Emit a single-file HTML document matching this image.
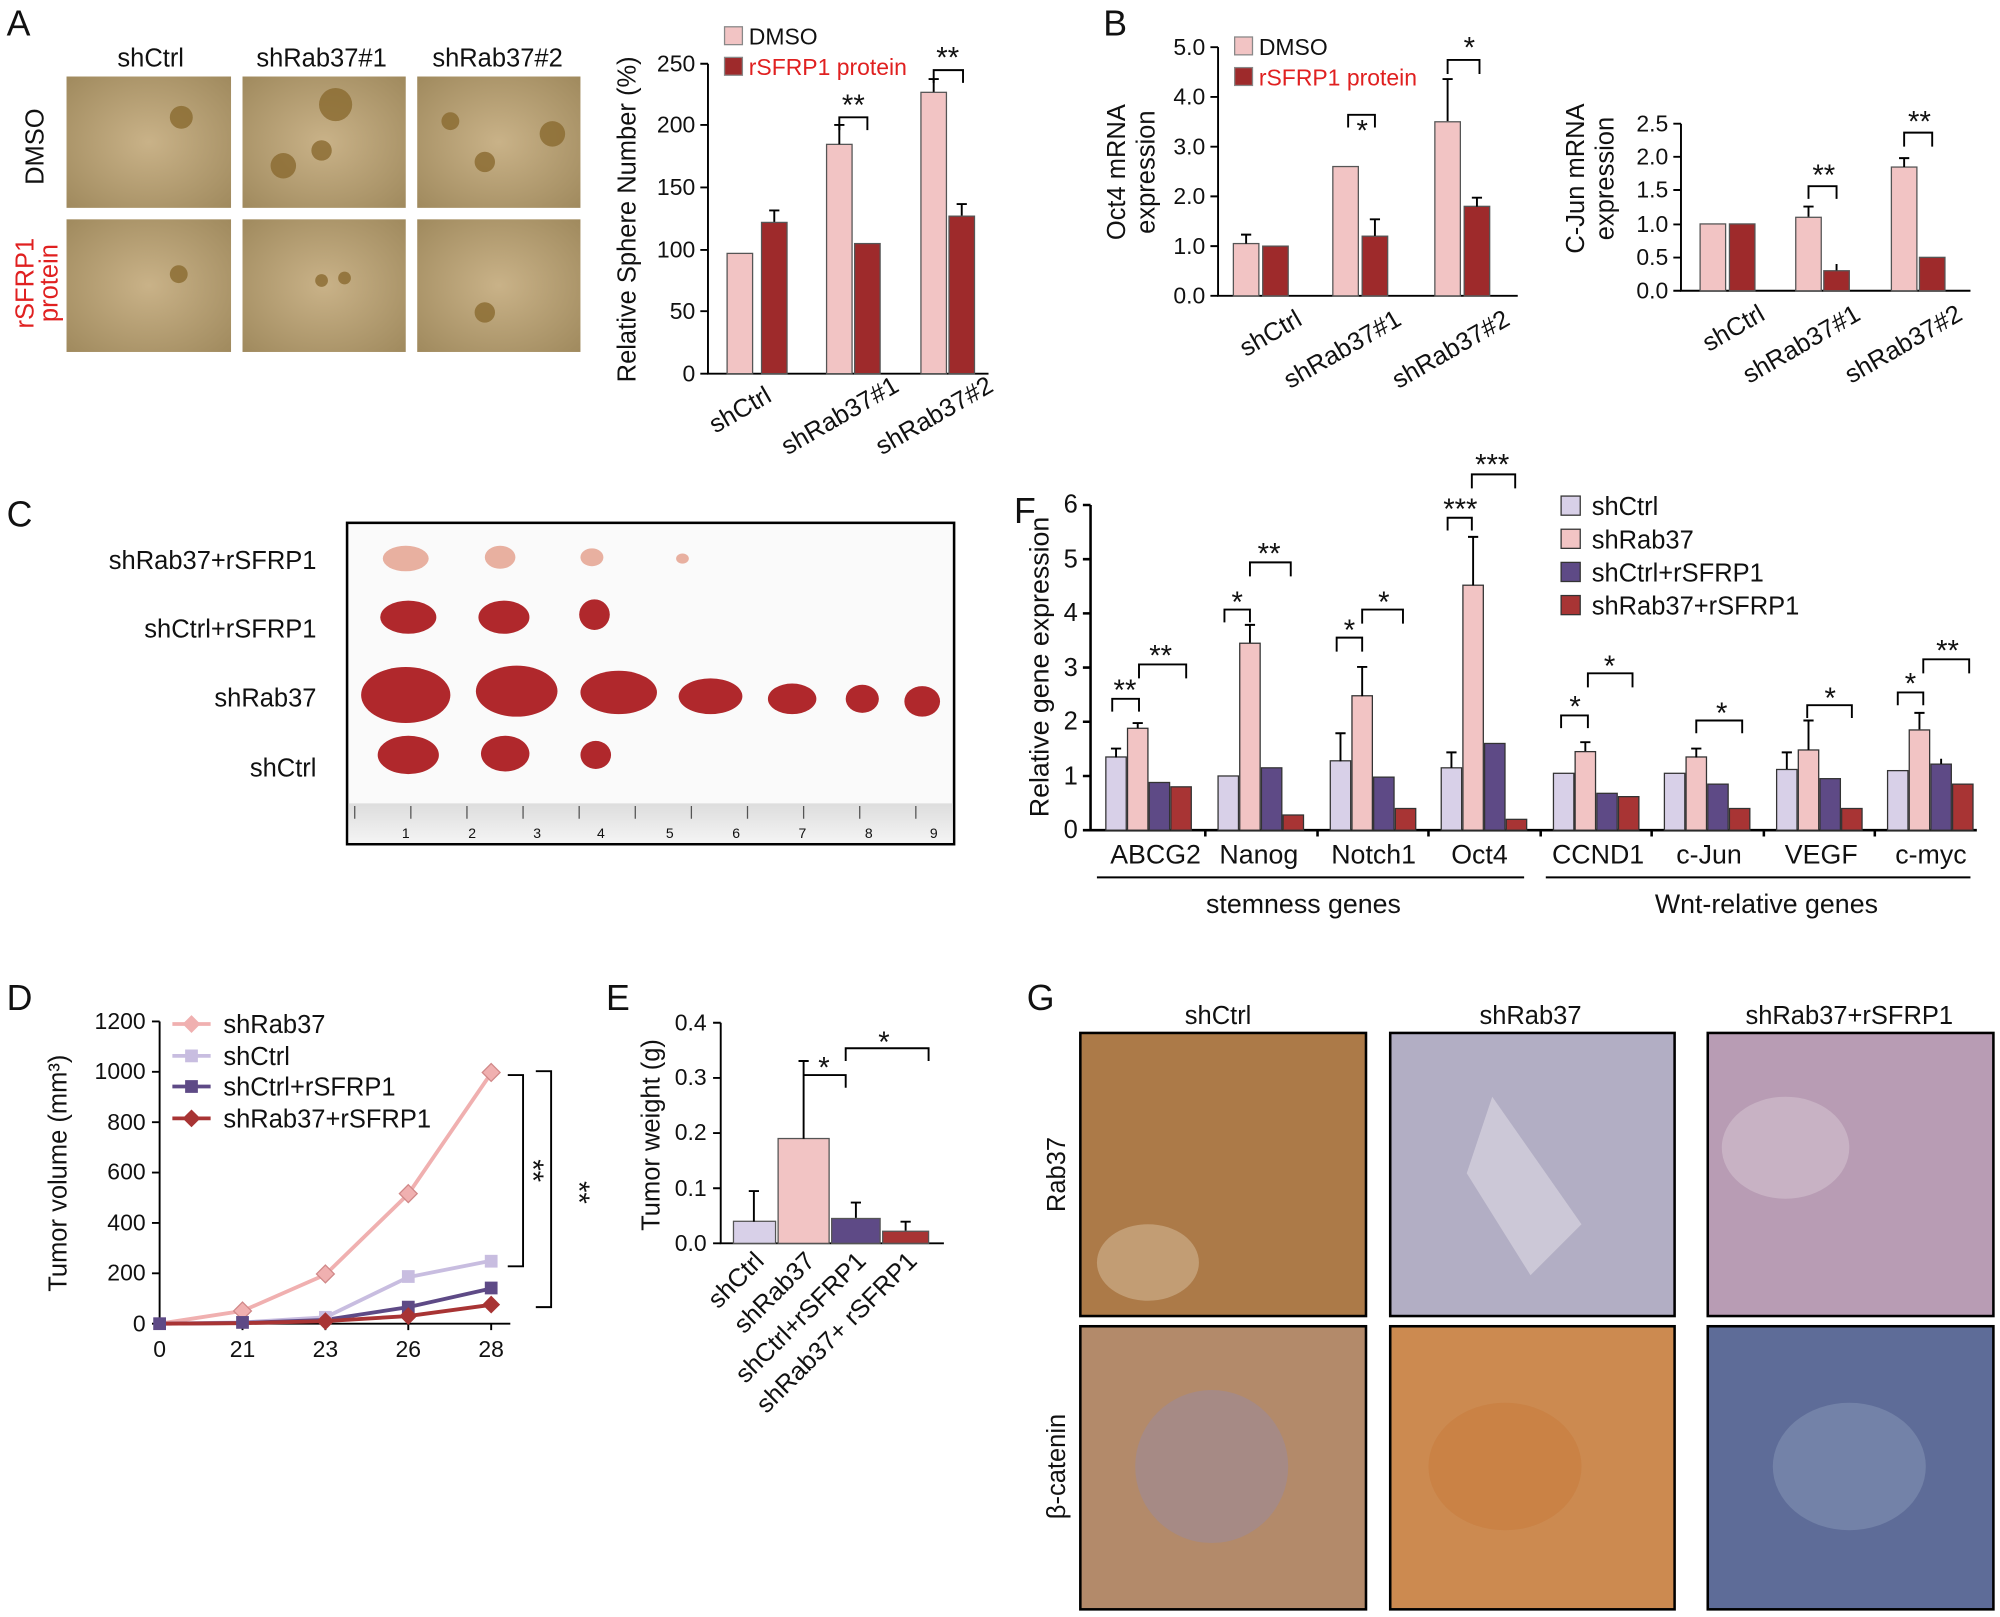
<!DOCTYPE html>
<html><head><meta charset="utf-8"><style>
html,body{margin:0;padding:0;background:#fff;}
svg{display:block;}
text{font-family:"Liberation Sans",Arial,sans-serif;fill:#111;}
</style></head><body>
<svg width="2000" height="1617" viewBox="0 0 1568 1268" xmlns="http://www.w3.org/2000/svg">
<defs>
<radialGradient id="ph" cx="50%" cy="50%" r="70%"><stop offset="0" stop-color="#c9b288"/><stop offset="1" stop-color="#a08a5e"/></radialGradient>
<linearGradient id="rul" x1="0" y1="0" x2="0" y2="1"><stop offset="0" stop-color="#ddd"/><stop offset="1" stop-color="#f4f4f4"/></linearGradient>
</defs>
<g font-size="28"><text x="5" y="28">A</text><text x="865" y="28">B</text><text x="5" y="413">C</text><text x="795" y="410">F</text><text x="5" y="792">D</text><text x="475" y="792">E</text><text x="805" y="792">G</text></g>

<!-- Panel A photos -->
<g font-size="20" text-anchor="middle"><text x="118" y="52">shCtrl</text><text x="252" y="52">shRab37#1</text><text x="390" y="52">shRab37#2</text></g>
<rect x="52" y="60" width="129" height="103" fill="url(#ph)"/><rect x="190" y="60" width="128" height="103" fill="url(#ph)"/><rect x="327" y="60" width="128" height="103" fill="url(#ph)"/>
<rect x="52" y="172" width="129" height="104" fill="url(#ph)"/><rect x="190" y="172" width="128" height="104" fill="url(#ph)"/><rect x="327" y="172" width="128" height="104" fill="url(#ph)"/>
<g fill="#8a6a30" opacity="0.8"><circle cx="142" cy="92" r="9"/><circle cx="263" cy="82" r="13"/><circle cx="222" cy="130" r="10"/><circle cx="252" cy="118" r="8"/><circle cx="433" cy="105" r="10"/><circle cx="380" cy="127" r="8"/><circle cx="353" cy="95" r="7"/><circle cx="140" cy="215" r="7"/><circle cx="380" cy="245" r="8"/><circle cx="252" cy="220" r="5"/><circle cx="270" cy="218" r="5"/></g>
<text transform="translate(34,115) rotate(-90)" font-size="20" text-anchor="middle">DMSO</text>
<text transform="translate(26,222) rotate(-90)" font-size="20" text-anchor="middle" style="fill:#e02020">rSFRP1</text>
<text transform="translate(45,222) rotate(-90)" font-size="20" text-anchor="middle" style="fill:#e02020">protein</text>

<!-- Panel A chart -->
<g stroke="#000" stroke-width="1.5" fill="none"><path d="M555 50V293H775"/><path d="M549 50h6M549 98h6M549 147h6M549 196h6M549 244h6M549 293h6"/></g>
<g font-size="18" text-anchor="end"><text x="545" y="56">250</text><text x="545" y="104">200</text><text x="545" y="153">150</text><text x="545" y="202">100</text><text x="545" y="250">50</text><text x="545" y="299">0</text></g>
<text transform="translate(498,172) rotate(-90)" font-size="20" text-anchor="middle">Relative Sphere Number (%)</text>
<g stroke="#555" stroke-width="1">
<rect x="570" y="198.7" width="20" height="94.3" fill="#f2c4c4"/><rect x="597" y="174.4" width="20" height="118.6" fill="#9e2a2b"/>
<rect x="648" y="113.2" width="20" height="179.8" fill="#f2c4c4"/><rect x="670" y="191" width="20" height="102" fill="#9e2a2b"/>
<rect x="722" y="72.4" width="20" height="220.6" fill="#f2c4c4"/><rect x="744" y="169.5" width="20" height="123.5" fill="#9e2a2b"/></g>
<g stroke="#000" stroke-width="1.5" fill="none"><path d="M607 174V165M603 165h8M658 113V98M654 98h8M732 72V62M728 62h8M754 169V160M750 160h8"/>
<path d="M658 102V92H680V102M732 65V55H755V65"/></g>
<g font-size="23" text-anchor="middle"><text x="669" y="90">**</text><text x="743" y="53">**</text></g>
<g font-size="20" text-anchor="end"><text transform="translate(606,314) rotate(-30)">shCtrl</text><text transform="translate(706,306) rotate(-30)">shRab37#1</text><text transform="translate(780,306) rotate(-30)">shRab37#2</text></g>
<rect x="568" y="21" width="14" height="14" fill="#f2c4c4" stroke="#888"/><text x="587" y="35" font-size="18">DMSO</text>
<rect x="568" y="45" width="14" height="14" fill="#9e2a2b" stroke="#888"/><text x="587" y="59" font-size="18" style="fill:#e02020">rSFRP1 protein</text>

<!-- Panel B chart 1 -->
<g stroke="#000" stroke-width="1.5" fill="none"><path d="M955 37V232H1190"/><path d="M949 37h6M949 76h6M949 115h6M949 154h6M949 193h6M949 232h6"/></g>
<g font-size="18" text-anchor="end"><text x="945" y="43">5.0</text><text x="945" y="82">4.0</text><text x="945" y="121">3.0</text><text x="945" y="160">2.0</text><text x="945" y="199">1.0</text><text x="945" y="238">0.0</text></g>
<text transform="translate(882,135) rotate(-90)" font-size="20" text-anchor="middle">Oct4 mRNA</text>
<text transform="translate(905,135) rotate(-90)" font-size="20" text-anchor="middle">expression</text>
<g stroke="#555" stroke-width="1">
<rect x="967" y="191" width="20" height="41" fill="#f2c4c4"/><rect x="990" y="193" width="20" height="39" fill="#9e2a2b"/>
<rect x="1045" y="130.6" width="20" height="101.4" fill="#f2c4c4"/><rect x="1068" y="185.2" width="20" height="46.8" fill="#9e2a2b"/>
<rect x="1125" y="95.5" width="20" height="136.5" fill="#f2c4c4"/><rect x="1148" y="161.8" width="20" height="70.2" fill="#9e2a2b"/></g>
<g stroke="#000" stroke-width="1.5" fill="none"><path d="M977 191V184M973 184h8M1078 185V172M1074 172h8M1135 95V62M1131 62h8M1158 162V155M1154 155h8"/>
<path d="M1057 100V90H1078V100M1135 58V47H1160V58"/></g>
<g font-size="23" text-anchor="middle"><text x="1068" y="110">*</text><text x="1152" y="45">*</text></g>
<g font-size="20" text-anchor="end"><text transform="translate(1022,254) rotate(-30)">shCtrl</text><text transform="translate(1100,254) rotate(-30)">shRab37#1</text><text transform="translate(1185,254) rotate(-30)">shRab37#2</text></g>
<rect x="968" y="29" width="14" height="14" fill="#f2c4c4" stroke="#888"/><text x="987" y="43" font-size="18">DMSO</text>
<rect x="968" y="53" width="14" height="14" fill="#9e2a2b" stroke="#888"/><text x="987" y="67" font-size="18" style="fill:#e02020">rSFRP1 protein</text>

<!-- Panel B chart 2 -->
<g stroke="#000" stroke-width="1.5" fill="none"><path d="M1318 97V228H1545"/><path d="M1312 97h6M1312 123h6M1312 149h6M1312 176h6M1312 202h6M1312 228h6"/></g>
<g font-size="18" text-anchor="end"><text x="1308" y="103">2.5</text><text x="1308" y="129">2.0</text><text x="1308" y="155">1.5</text><text x="1308" y="182">1.0</text><text x="1308" y="208">0.5</text><text x="1308" y="234">0.0</text></g>
<text transform="translate(1242,140) rotate(-90)" font-size="20" text-anchor="middle">C-Jun mRNA</text>
<text transform="translate(1265,140) rotate(-90)" font-size="20" text-anchor="middle">expression</text>
<g stroke="#555" stroke-width="1">
<rect x="1333" y="175.6" width="20" height="52.4" fill="#f2c4c4"/><rect x="1356" y="175.6" width="20" height="52.4" fill="#9e2a2b"/>
<rect x="1408" y="170.4" width="20" height="57.6" fill="#f2c4c4"/><rect x="1430" y="212.3" width="20" height="15.7" fill="#9e2a2b"/>
<rect x="1483" y="131" width="20" height="97" fill="#f2c4c4"/><rect x="1505" y="201.8" width="20" height="26.2" fill="#9e2a2b"/></g>
<g stroke="#000" stroke-width="1.5" fill="none"><path d="M1418 170V162M1414 162h8M1493 131V124M1489 124h8M1440 212V207"/>
<path d="M1418 156V146H1440V156M1493 115V104H1515V115"/></g>
<g font-size="23" text-anchor="middle"><text x="1430" y="145">**</text><text x="1505" y="103">**</text></g>
<g font-size="20" text-anchor="end"><text transform="translate(1385,250) rotate(-30)">shCtrl</text><text transform="translate(1460,250) rotate(-30)">shRab37#1</text><text transform="translate(1540,250) rotate(-30)">shRab37#2</text></g>

<!-- Panel C -->
<g font-size="20" text-anchor="end"><text x="248" y="446">shRab37+rSFRP1</text><text x="248" y="500">shCtrl+rSFRP1</text><text x="248" y="554">shRab37</text><text x="248" y="609">shCtrl</text></g>
<rect x="272" y="410" width="476" height="252" fill="#fafafa" stroke="#000" stroke-width="2"/>
<rect x="273" y="630" width="474" height="31" fill="url(#rul)"/>
<g stroke="#555" stroke-width="1"><path d="M278 632v10M322 632v10M366 632v10M410 632v10M454 632v10M498 632v10M542 632v10M586 632v10M630 632v10M674 632v10M718 632v10"/></g>
<g font-size="11" fill="#333"><text x="315" y="657">1</text><text x="367" y="657">2</text><text x="418" y="657">3</text><text x="468" y="657">4</text><text x="522" y="657">5</text><text x="574" y="657">6</text><text x="626" y="657">7</text><text x="678" y="657">8</text><text x="729" y="657">9</text></g>
<g fill="#e8b0a0"><ellipse cx="318" cy="438" rx="18" ry="10"/><ellipse cx="392" cy="437" rx="12" ry="9"/><ellipse cx="464" cy="437" rx="9" ry="7"/><ellipse cx="535" cy="438" rx="5" ry="4"/></g>
<g fill="#b0282c"><ellipse cx="320" cy="484" rx="22" ry="13"/><ellipse cx="395" cy="484" rx="20" ry="13"/><ellipse cx="466" cy="482" rx="12" ry="12"/>
<ellipse cx="318" cy="545" rx="35" ry="22"/><ellipse cx="405" cy="542" rx="32" ry="20"/><ellipse cx="485" cy="543" rx="30" ry="17"/><ellipse cx="557" cy="546" rx="25" ry="14"/><ellipse cx="621" cy="548" rx="19" ry="12"/><ellipse cx="676" cy="548" rx="13" ry="11"/><ellipse cx="723" cy="550" rx="14" ry="12"/>
<ellipse cx="320" cy="592" rx="24" ry="15"/><ellipse cx="396" cy="591" rx="19" ry="14"/><ellipse cx="467" cy="592" rx="12" ry="11"/></g>

<!-- Panel F -->
<g stroke="#000" stroke-width="2" fill="none"><path d="M855 396V651H1550"/><path d="M849 396h6M849 438.5h6M849 481h6M849 523.5h6M849 566h6M849 608.5h6M849 651h6M945 651v5M1033 651v5M1120 651v5M1208 651v5M1295 651v5M1383 651v5M1470 651v5"/></g>
<g font-size="20" text-anchor="end"><text x="845" y="402">6</text><text x="845" y="445">5</text><text x="845" y="487">4</text><text x="845" y="530">3</text><text x="845" y="572">2</text><text x="845" y="615">1</text><text x="845" y="657">0</text></g>
<text transform="translate(822,523) rotate(-90)" font-size="21" text-anchor="middle">Relative gene expression</text>
<g stroke="#333" stroke-width="1">
<g fill="#d8d0e8"><rect x="867" y="593.6" width="16" height="57.4"/><rect x="955" y="608.5" width="16" height="42.5"/><rect x="1043" y="596.6" width="16" height="54.4"/><rect x="1130" y="602.1" width="16" height="48.9"/><rect x="1218" y="606.4" width="16" height="44.6"/><rect x="1305" y="606.4" width="16" height="44.6"/><rect x="1393" y="603.4" width="16" height="47.6"/><rect x="1480" y="604.3" width="16" height="46.7"/></g>
<g fill="#f2c4c4"><rect x="884" y="571.1" width="16" height="79.9"/><rect x="972" y="504.4" width="16" height="146.6"/><rect x="1060" y="545.6" width="16" height="105.4"/><rect x="1147" y="458.9" width="16" height="192.1"/><rect x="1235" y="589.4" width="16" height="61.6"/><rect x="1322" y="593.6" width="16" height="57.4"/><rect x="1410" y="588.1" width="16" height="62.9"/><rect x="1497" y="572.4" width="16" height="78.6"/></g>
<g fill="#5e4a86"><rect x="901" y="613.6" width="16" height="37.4"/><rect x="989" y="602.1" width="16" height="48.9"/><rect x="1077" y="609.4" width="16" height="41.6"/><rect x="1164" y="583" width="16" height="68"/><rect x="1252" y="622.1" width="16" height="28.9"/><rect x="1339" y="614.9" width="16" height="36.1"/><rect x="1427" y="610.6" width="16" height="40.4"/><rect x="1514" y="599.2" width="16" height="51.8"/></g>
<g fill="#a83434"><rect x="918" y="617" width="16" height="34"/><rect x="1006" y="639.1" width="16" height="11.9"/><rect x="1094" y="634" width="16" height="17"/><rect x="1181" y="642.5" width="16" height="8.5"/><rect x="1269" y="624.7" width="16" height="26.3"/><rect x="1356" y="634" width="16" height="17"/><rect x="1444" y="634" width="16" height="17"/><rect x="1531" y="614.9" width="16" height="36.1"/></g></g>
<g stroke="#000" stroke-width="1.5" fill="none">
<path d="M875 594V587M871 587h8M892 571V567M888 567h8M980 504V490M976 490h8M1051 597V575M1047 575h8M1068 546V523M1064 523h8M1138 602V590M1134 590h8M1155 459V421M1151 421h8M1243 589V582M1239 582h8M1330 594V587M1326 587h8M1401 603V590M1397 590h8M1418 588V565M1414 565h8M1505 572V559M1501 559h8M1522 599V595"/>
<path d="M872 558V548H893V558M893 532V521H930V532M960 488V478H980V488M980 452V441H1012V452M1048 511V500H1068V511M1068 489V478H1100V489M1135 416V406H1154V416M1154 383V372H1188V383M1224 571V561H1245V571M1245 539V528H1280V539M1330 575V565H1366V575M1417 563V553H1452V563M1488 553V543H1508V553M1508 528V517H1544V528"/></g>
<g font-size="23" text-anchor="middle"><text x="882" y="549">**</text><text x="910" y="522">**</text><text x="970" y="480">*</text><text x="995" y="442">**</text><text x="1058" y="502">*</text><text x="1085" y="480">*</text><text x="1145" y="407">***</text><text x="1170" y="372">***</text><text x="1235" y="562">*</text><text x="1262" y="530">*</text><text x="1350" y="567">*</text><text x="1435" y="555">*</text><text x="1498" y="544">*</text><text x="1527" y="518">**</text></g>
<g font-size="21" text-anchor="middle"><text x="906" y="677">ABCG2</text><text x="987" y="677">Nanog</text><text x="1077" y="677">Notch1</text><text x="1160" y="677">Oct4</text><text x="1253" y="677">CCND1</text><text x="1340" y="677">c-Jun</text><text x="1428" y="677">VEGF</text><text x="1514" y="677">c-myc</text>
<text x="1022" y="716">stemness genes</text><text x="1385" y="716">Wnt-relative genes</text></g>
<g stroke="#000" stroke-width="1.5"><path d="M860 688H1195M1212 688H1545"/></g>
<g stroke="#333" stroke-width="1"><rect x="1224" y="389" width="15" height="15" fill="#d8d0e8"/><rect x="1224" y="415" width="15" height="15" fill="#f2c4c4"/><rect x="1224" y="441" width="15" height="15" fill="#5e4a86"/><rect x="1224" y="467" width="15" height="15" fill="#a83434"/></g>
<g font-size="20"><text x="1248" y="404">shCtrl</text><text x="1248" y="430">shRab37</text><text x="1248" y="456">shCtrl+rSFRP1</text><text x="1248" y="482">shRab37+rSFRP1</text></g>

<!-- Panel D -->
<g stroke="#000" stroke-width="1.5" fill="none"><path d="M125 801V1038H400"/><path d="M119 801h6M119 840.5h6M119 880h6M119 919.5h6M119 959h6M119 998.5h6M119 1038h6M190 1038v5M255 1038v5M320 1038v5M385 1038v5"/></g>
<g font-size="18" text-anchor="end"><text x="114" y="807">1200</text><text x="114" y="846">1000</text><text x="114" y="886">800</text><text x="114" y="925">600</text><text x="114" y="965">400</text><text x="114" y="1004">200</text><text x="114" y="1044">0</text></g>
<g font-size="18" text-anchor="middle"><text x="125" y="1064">0</text><text x="190" y="1064">21</text><text x="255" y="1064">23</text><text x="320" y="1064">26</text><text x="385" y="1064">28</text></g>
<text transform="translate(52,920) rotate(-90)" font-size="20" text-anchor="middle">Tumor volume (mm³)</text>
<g fill="none" stroke-width="3"><polyline points="125,1038 190,1028 255,999.5 320,936.3 385,841.5" stroke="#f0b0b0"/><polyline points="125,1038 190,1037 255,1033 320,1001.5 385,988.6" stroke="#c8bde0"/><polyline points="125,1038 190,1037.4 255,1035 320,1025 385,1010.4" stroke="#5e4a86"/><polyline points="125,1038 190,1037.6 255,1036 320,1032 385,1023.2" stroke="#a83434"/></g>
<g fill="#f0b0b0" stroke="#d08888"><path d="M190 1021l7 7-7 7-7-7zM255 992l7 7-7 7-7-7zM320 929l7 7-7 7-7-7zM385 834l7 7-7 7-7-7z"/></g>
<g fill="#c8bde0"><rect x="315" y="996" width="10" height="10"/><rect x="380" y="984" width="10" height="10"/><rect x="250" y="1028" width="10" height="10"/></g>
<g fill="#5e4a86"><rect x="315" y="1020" width="10" height="10"/><rect x="380" y="1005" width="10" height="10"/><rect x="120" y="1033" width="10" height="10"/><rect x="185" y="1032" width="10" height="10"/></g>
<g fill="#a83434"><path d="M320 1025l7 7-7 7-7-7zM385 1016l7 7-7 7-7-7zM255 1029l7 7-7 7-7-7z"/></g>
<g stroke-width="3"><path d="M135 803H165" stroke="#f0b0b0"/><path d="M135 828H165" stroke="#c8bde0"/><path d="M135 852H165" stroke="#5e4a86"/><path d="M135 877H165" stroke="#a83434"/></g>
<path d="M150 796l7 7-7 7-7-7z" fill="#f0b0b0"/><rect x="145" y="823" width="10" height="10" fill="#c8bde0"/><rect x="145" y="847" width="10" height="10" fill="#5e4a86"/><path d="M150 870l7 7-7 7-7-7z" fill="#a83434"/>
<g font-size="20"><text x="175" y="810">shRab37</text><text x="175" y="835">shCtrl</text><text x="175" y="859">shCtrl+rSFRP1</text><text x="175" y="884">shRab37+rSFRP1</text></g>
<g stroke="#000" stroke-width="1.5" fill="none"><path d="M398 843H410V993H398M420 840H432V1025H420"/></g>
<text transform="translate(410,918) rotate(90)" font-size="23" text-anchor="middle">**</text>
<text transform="translate(446,935) rotate(90)" font-size="23" text-anchor="middle">**</text>

<!-- Panel E -->
<g stroke="#000" stroke-width="1.5" fill="none"><path d="M565 802V975H740"/><path d="M559 802h6M559 845.3h6M559 888.5h6M559 931.8h6M559 975h6"/></g>
<g font-size="18" text-anchor="end"><text x="554" y="808">0.4</text><text x="554" y="851">0.3</text><text x="554" y="894">0.2</text><text x="554" y="938">0.1</text><text x="554" y="981">0.0</text></g>
<text transform="translate(517,890) rotate(-90)" font-size="20" text-anchor="middle">Tumor weight (g)</text>
<g stroke="#555" stroke-width="1"><rect x="575" y="957.7" width="33" height="17.3" fill="#d8d0e8"/><rect x="610" y="892.8" width="40" height="82.2" fill="#f2c4c4"/><rect x="652" y="955.5" width="38" height="19.5" fill="#5e4a86"/><rect x="692" y="965.5" width="36" height="9.5" fill="#a83434"/></g>
<g stroke="#000" stroke-width="1.5" fill="none"><path d="M591 958V934M587 934h8M630 893V832M626 832h8M671 955V943M667 943h8M710 965V958M706 958h8M630 853V843H663V853M663 832V822H728V832"/></g>
<g font-size="23" text-anchor="middle"><text x="646" y="845">*</text><text x="693" y="825">*</text></g>
<g font-size="20" text-anchor="end"><text transform="translate(600,990) rotate(-45)">shCtrl</text><text transform="translate(640,990) rotate(-45)">shRab37</text><text transform="translate(680,990) rotate(-45)">shCtrl+rSFRP1</text><text transform="translate(720,990) rotate(-45)">shRab37+ rSFRP1</text></g>

<!-- Panel G -->
<g font-size="20" text-anchor="middle"><text x="955" y="803">shCtrl</text><text x="1200" y="803">shRab37</text><text x="1450" y="803">shRab37+rSFRP1</text></g>
<text transform="translate(835,921) rotate(-90)" font-size="20" text-anchor="middle">Rab37</text>
<text transform="translate(835,1150) rotate(-90)" font-size="20" text-anchor="middle">β-catenin</text>
<g stroke="#000" stroke-width="2">
<rect x="847" y="810" width="224" height="222" fill="#ac7a48"/><rect x="1090" y="810" width="223" height="222" fill="#b2aec4"/><rect x="1339" y="810" width="224" height="222" fill="#b89cb4"/>
<rect x="847" y="1040" width="224" height="222" fill="#b38a6a"/><rect x="1090" y="1040" width="223" height="222" fill="#cc8a50"/><rect x="1339" y="1040" width="224" height="222" fill="#5e6c98"/></g>
<g opacity="0.5"><ellipse cx="900" cy="990" rx="40" ry="30" fill="#d8c0a0"/><path d="M1170 860L1240 960L1200 1000L1150 920Z" fill="#e6e2ea"/><ellipse cx="1400" cy="900" rx="50" ry="40" fill="#d8c8d4"/><ellipse cx="1180" cy="1150" rx="60" ry="50" fill="#c77a3a"/><ellipse cx="1450" cy="1150" rx="60" ry="50" fill="#8898b8"/><ellipse cx="950" cy="1150" rx="60" ry="60" fill="#9a8aa0"/></g>
</svg>
</body></html>
